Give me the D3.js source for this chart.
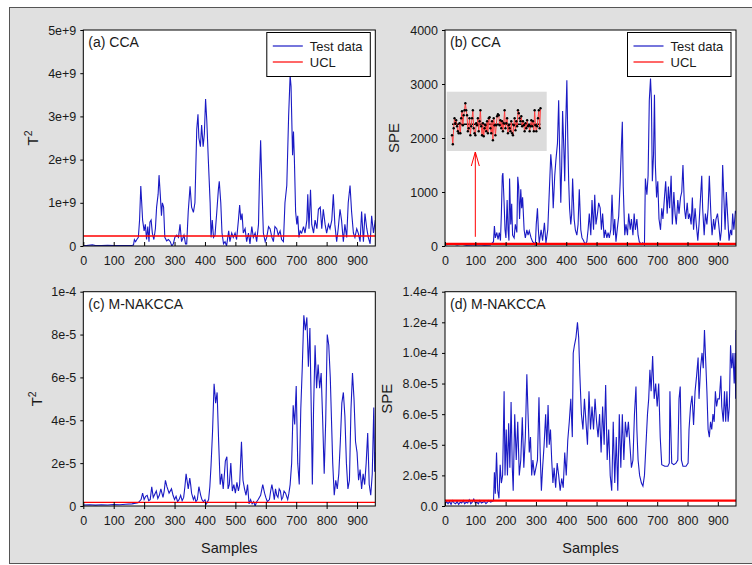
<!DOCTYPE html>
<html>
<head>
<meta charset="utf-8">
<script src="https://cdn.jsdelivr.net/npm/d3@7"></script>
<style>
  body { margin: 0; background: #fff; }
  text { font-family: Arial, "Liberation Sans", sans-serif; fill: #1a1a1a; }
</style>
</head>
<body>
<svg id="fig" width="752" height="565"></svg>
<script>
// values: [sample, statistic]
// (a) CCA T2, in units of 1e9
var ccaT2 = [[0,0.01],[10,0.01],[30,0.025],[40,0.01],[60,0.01],[80,0.015],[100,0.01],[120,0.01],[140,0.01],[160,0.015],[165,0.02],[168,0.15],[172,0.1],[176,0.15],[181,0.2],[185,0.6],[189,1.39],[192,1.0],[195,0.6],[200,0.35],[204,0.5],[208,0.15],[212,0.45],[216,0.1],[219,0.55],[223,0.6],[227,0.3],[232,0.15],[237,0.4],[241,0.9],[246,1.2],[249,1.64],[253,1.2],[257,0.7],[260,1.0],[264,0.9],[268,0.2],[274,0.12],[280,0.15],[286,0.1],[291,0.0],[296,0.05],[301,0.2],[307,0.25],[313,0.2],[318,0.5],[323,0.1],[331,0.25],[336,0.05],[340,0.05],[345,0.8],[351,1.38],[356,0.9],[362,0.78],[367,1.0],[373,2.7],[377,3.05],[380,2.5],[385,2.3],[389,2.8],[394,2.3],[398,2.6],[402,3.4],[406,2.9],[411,2.0],[417,1.0],[420,0.2],[424,0.6],[428,0.2],[433,0.25],[439,0.8],[444,1.3],[447,1.5],[452,1.0],[456,0.3],[461,0.05],[466,0.1],[471,0.0],[478,0.35],[482,0.1],[488,0.3],[493,0.2],[499,0.3],[504,0.15],[510,0.6],[514,0.95],[518,0.6],[522,0.75],[526,0.3],[532,0.4],[537,0.1],[543,0.3],[548,0.05],[554,0.45],[559,0.2],[565,0.3],[570,0.1],[576,0.5],[579,1.5],[583,2.45],[588,1.2],[592,0.3],[598,0.1],[603,0.2],[609,0.45],[614,0.4],[620,0.2],[625,0.1],[630,0.45],[636,0.4],[641,0.25],[647,0.35],[652,0.15],[658,0.1],[663,1.0],[669,1.4],[675,3.0],[680,3.95],[683,3.7],[688,2.1],[691,2.65],[694,2.0],[698,0.8],[702,0.5],[705,0.7],[709,0.2],[713,0.35],[718,0.3],[724,0.45],[729,0.3],[735,0.6],[738,1.2],[742,0.4],[747,1.3],[751,0.5],[757,0.3],[762,0.6],[768,0.4],[773,0.85],[779,0.9],[784,0.4],[789,0.85],[795,0.5],[800,0.3],[806,0.5],[811,0.4],[817,0.6],[822,1.2],[827,0.5],[833,0.1],[838,0.4],[844,0.85],[849,0.6],[855,0.1],[860,0.5],[866,0.2],[871,1.0],[877,1.4],[882,0.8],[888,0.3],[893,0.2],[899,0.4],[904,0.3],[910,0.1],[915,0.8],[921,0.1],[926,0.75],[932,0.4],[937,0.2],[943,0.05],[948,0.7],[954,0.3],[960,0.6]];
var ccaT2UCL = 0.23;

// (b) CCA SPE
var ccaSPE = [[0,20],[10,30],[25,40],[40,20],[55,35],[70,15],[90,20],[110,25],[130,15],[150,20],[160,80],[163,370],[166,150],[171,250],[175,120],[179,250],[183,100],[186,600],[189,1300],[191,1350],[195,800],[198,300],[201,150],[205,850],[208,300],[211,100],[213,1250],[217,400],[220,780],[223,200],[228,150],[232,400],[237,250],[240,1280],[243,1100],[246,500],[250,1050],[253,700],[256,900],[261,300],[265,150],[270,300],[274,200],[278,280],[284,150],[289,80],[295,50],[298,10],[301,400],[305,700],[308,300],[311,50],[317,300],[322,100],[328,430],[333,50],[339,300],[344,1000],[349,1700],[353,1400],[357,700],[362,1300],[366,1600],[371,1900],[375,2700],[378,1800],[382,800],[385,1500],[388,2500],[392,1800],[395,1200],[398,2200],[402,3070],[405,2000],[408,1200],[411,700],[415,400],[418,600],[421,1250],[426,500],[430,300],[435,200],[439,400],[443,1050],[448,300],[452,150],[457,100],[462,30],[468,80],[472,300],[476,600],[481,200],[485,850],[490,300],[494,950],[498,400],[503,600],[507,800],[512,700],[516,300],[520,600],[525,150],[529,300],[534,150],[538,250],[542,150],[547,300],[551,950],[556,200],[560,500],[564,80],[569,350],[573,550],[578,1200],[582,1850],[585,2300],[588,1100],[593,200],[597,400],[602,200],[606,600],[611,300],[615,500],[620,200],[624,600],[628,300],[633,500],[637,200],[641,80],[647,30],[652,60],[658,20],[661,1250],[666,950],[670,1300],[674,2700],[678,3100],[681,2700],[684,1200],[688,1700],[691,2800],[694,1500],[698,900],[702,1200],[706,500],[711,300],[715,700],[719,500],[724,900],[728,1200],[733,600],[737,1100],[741,700],[746,1300],[750,400],[755,1000],[759,600],[763,400],[768,850],[772,600],[777,900],[781,1000],[785,1500],[790,700],[794,500],[799,800],[803,500],[807,600],[812,400],[816,900],[820,300],[825,700],[829,400],[834,100],[838,400],[843,900],[847,1300],[850,700],[855,200],[859,600],[864,400],[868,700],[872,1300],[877,600],[881,200],[886,500],[890,300],[894,500],[899,600],[903,400],[908,100],[912,300],[916,1500],[920,900],[924,300],[928,1000],[933,500],[937,100],[942,300],[946,200],[949,600],[953,300],[958,650],[960,600]];
var ccaSPEUCL = 40;

// (b) inset: zoomed normal section, deviation from the limit line
var insetSPE = [-11,-20,-4,6,1,4,-2,-7,-9,1,-9,6,13,-1,9,14,21,14,9,-7,-4,6,-11,-2,6,14,-4,-9,-11,1,-1,6,-7,3,14,-2,-11,1,-12,-4,-1,-7,3,-9,6,7,-4,-9,3,-16,6,-1,-11,-1,8,10,9,-1,4,-4,3,-7,1,14,-4,1,6,-9,-1,-4,-7,3,-9,-11,-1,6,-6,3,-2,14,11,6,3,8,-2,3,-1,-7,1,-4,4,-2,-1,-7,-2,4,-2,3,-7,14,-1,-7,-2,6,14,-4,16];
var arrowSample = 100;

// (c) M-NAKCCA T2, in units of 1e-5
var mnT2 = [[0,0.05],[20,0.06],[40,0.04],[60,0.06],[80,0.05],[100,0.07],[120,0.06],[140,0.08],[160,0.1],[180,0.15],[190,0.3],[195,0.6],[200,0.3],[205,0.45],[210,0.5],[215,0.25],[220,0.3],[225,0.9],[230,0.4],[235,0.55],[240,0.7],[245,0.35],[250,0.5],[255,0.8],[262,0.4],[266,0.7],[270,1.2],[275,0.9],[282,0.6],[290,0.8],[295,0.5],[300,0.3],[305,0.45],[310,0.2],[315,0.3],[320,0.5],[325,0.25],[330,0.4],[334,0.9],[338,1.5],[342,1.1],[345,0.8],[350,1.3],[353,1.0],[356,0.6],[362,0.3],[366,0.45],[370,0.2],[375,0.3],[380,0.9],[383,0.7],[386,0.5],[390,0.3],[395,0.2],[400,0.3],[405,0.1],[412,0.3],[416,0.9],[420,1.9],[425,3.5],[430,5.7],[433,5.2],[435,4.8],[440,5.3],[445,3.0],[450,1.0],[455,1.5],[460,0.8],[464,1.5],[467,2.1],[472,2.3],[476,0.8],[480,1.0],[485,2.0],[490,0.7],[495,1.0],[500,0.6],[505,1.1],[510,0.7],[514,1.0],[517,2.0],[520,3.0],[525,1.2],[530,0.8],[535,0.5],[540,1.0],[545,0.1],[550,0.3],[555,0.1],[560,0.2],[565,0.0],[570,0.2],[575,0.3],[583,0.5],[590,1.0],[596,0.6],[600,0.4],[605,0.2],[612,0.3],[616,0.7],[620,1.0],[625,0.6],[628,0.3],[632,0.8],[636,0.5],[640,0.4],[644,0.8],[648,0.7],[652,0.3],[656,0.4],[660,0.7],[665,0.6],[672,0.3],[676,0.6],[680,1.0],[685,2.0],[690,4.7],[695,3.8],[700,5.6],[705,2.0],[710,1.0],[715,4.5],[720,6.5],[725,8.9],[730,8.2],[735,8.8],[740,6.5],[745,8.3],[750,4.0],[753,1.0],[757,4.5],[762,7.5],[767,5.5],[772,6.6],[777,5.5],[782,6.2],[787,4.0],[792,1.5],[797,4.0],[802,8.0],[807,7.5],[812,6.0],[816,4.0],[820,2.0],[825,0.5],[830,1.2],[835,0.8],[840,1.5],[845,3.0],[850,4.8],[855,5.3],[860,4.2],[865,2.0],[870,0.8],[875,1.2],[880,4.5],[885,6.2],[890,5.0],[895,3.0],[900,2.5],[905,1.2],[910,1.7],[915,0.8],[920,1.5],[925,1.0],[930,2.0],[935,3.4],[940,1.0],[945,0.5],[950,1.5],[955,4.6],[958,1.6],[960,2.5]];
var mnT2UCL = 0.17;

// (d) M-NAKCCA SPE, in units of 1e-5
var mnSPE = [[0,0.1],[5,0.3],[10,0.15],[15,0.3],[20,0.1],[25,0.35],[30,0.2],[35,0.15],[40,0.3],[45,0.1],[50,0.25],[55,0.2],[60,0.35],[65,0.15],[70,0.25],[75,0.2],[80,0.4],[85,0.15],[90,0.25],[95,0.45],[100,0.2],[105,0.25],[110,0.15],[115,0.35],[120,0.2],[125,0.25],[130,0.3],[135,0.15],[140,0.25],[145,0.35],[150,0.25],[155,0.3],[160,0.35],[163,2.2],[166,0.8],[170,3.5],[174,1.0],[178,0.5],[182,2.7],[186,1.5],[190,2.0],[195,7.5],[198,2.0],[202,5.0],[206,2.0],[210,5.4],[214,2.5],[218,6.8],[222,2.5],[225,1.0],[230,6.0],[235,3.0],[240,5.5],[245,2.0],[250,3.0],[255,5.8],[260,2.5],[265,4.5],[270,8.6],[274,6.0],[278,3.5],[282,4.5],[286,2.0],[290,3.0],[295,2.0],[300,2.5],[305,3.0],[310,7.1],[314,3.5],[318,1.0],[322,2.5],[327,4.0],[332,6.0],[336,3.8],[340,6.6],[344,4.0],[348,5.0],[352,3.0],[356,1.5],[360,2.5],[365,1.2],[370,2.8],[375,2.0],[380,1.0],[385,1.8],[390,1.2],[395,3.5],[400,2.0],[405,4.3],[410,5.5],[415,7.0],[420,4.5],[423,10.0],[427,10.5],[432,11.0],[437,12.0],[441,11.0],[445,8.5],[450,6.0],[455,5.0],[460,7.0],[465,5.5],[470,4.0],[475,7.5],[480,5.0],[485,6.5],[490,5.0],[495,7.0],[500,5.5],[505,4.5],[510,6.0],[515,3.5],[520,6.5],[525,4.0],[530,7.9],[535,3.0],[540,5.0],[545,2.0],[550,1.0],[555,5.5],[560,1.5],[565,4.5],[570,1.0],[575,6.0],[580,2.5],[585,6.0],[590,3.0],[595,5.5],[600,4.5],[605,5.5],[610,4.0],[615,2.5],[620,3.0],[625,6.0],[630,7.8],[633,5.0],[637,3.0],[642,2.0],[648,1.5],[653,1.3],[658,2.0],[663,4.0],[668,6.0],[672,7.0],[676,8.9],[680,7.5],[685,9.8],[690,7.0],[695,8.0],[700,6.5],[705,8.0],[710,4.5],[715,2.7],[725,2.6],[735,2.6],[740,2.8],[742,7.5],[745,5.0],[748,2.8],[755,2.7],[762,2.8],[768,3.0],[772,7.0],[776,7.8],[780,3.0],[785,2.6],[795,2.6],[802,2.8],[805,5.0],[810,6.5],[815,7.2],[820,5.3],[825,7.5],[830,8.5],[835,9.7],[838,7.0],[843,9.0],[848,10.0],[852,9.0],[856,11.5],[860,9.5],[864,7.5],[868,5.0],[872,4.5],[876,5.5],[880,5.0],[884,6.0],[888,5.5],[892,7.5],[896,6.5],[900,7.0],[905,7.0],[910,8.5],[913,6.5],[918,5.5],[922,7.5],[926,5.5],[930,7.5],[934,5.5],[938,6.5],[942,10.5],[946,9.0],[950,10.0],[954,8.0],[957,10.0],[959,7.0],[960,11.5]];
var mnSPEUCL = 0.35;

// axis ticks
var xTicks = [0,100,200,300,400,500,600,700,800,900];
var aTicks = [0,1,2,3,4,5], aLabels = ["0","1e+9","2e+9","3e+9","4e+9","5e+9"];
var bTicks = [0,1000,2000,3000,4000], bLabels = ["0","1000","2000","3000","4000"];
var cTicks = [0,2,4,6,8,10], cLabels = ["0","2e-5","4e-5","6e-5","8e-5","1e-4"];
var dTicks = [0,2,4,6,8,10,12,14], dLabels = ["0.0","2.0e-5","4.0e-5","6.0e-5","8.0e-5","1.0e-4","1.2e-4","1.4e-4"];

var blue = '#1a1ac4', red = '#ff0000';
var svg = d3.select('#fig');

// figure background frame
svg.append('rect')
  .attr('x', 9.5).attr('y', 7.5).attr('width', 750).attr('height', 556)
  .attr('fill', '#e0e0e0').attr('stroke', '#555').attr('stroke-width', 1);

var panels = [
  {id:'a', data:ccaT2, ucl:ccaT2UCL, uclW:1.4, ymax:5, ticks:aTicks, labels:aLabels,
   x0:83.3, x1:375.3, y0:30, y1:246, title:'(a) CCA', ytitle:'T', sup:true, ytx:32, legend:true},
  {id:'b', data:ccaSPE, ucl:ccaSPEUCL, uclW:2.2, ymax:4000, ticks:bTicks, labels:bLabels,
   x0:445, x1:736, y0:30, y1:246, title:'(b) CCA', ytitle:'SPE', sup:false, ytx:393.5, legend:true},
  {id:'c', data:mnT2, ucl:mnT2UCL, uclW:1.4, ymax:10, ticks:cTicks, labels:cLabels,
   x0:83.3, x1:375.3, y0:291.7, y1:506, title:'(c) M-NAKCCA', ytitle:'T', sup:true, ytx:36, xtitle:true, tickOut:true},
  {id:'d', data:mnSPE, ucl:mnSPEUCL, uclW:2.2, ymax:14, ticks:dTicks, labels:dLabels,
   x0:445, x1:736, y0:291.7, y1:506, title:'(d) M-NAKCCA', ytitle:'SPE', sup:false, ytx:386, xtitle:true}
];

panels.forEach(function(p) {
  var x = d3.scaleLinear().domain([0, 960]).range([p.x0, p.x1]);
  var y = d3.scaleLinear().domain([0, p.ymax]).range([p.y1, p.y0]);
  p.x = x; p.y = y;
  var g = svg.append('g');

  g.append('rect')
    .attr('x', p.x0).attr('y', p.y0)
    .attr('width', p.x1 - p.x0).attr('height', p.y1 - p.y0)
    .attr('fill', '#fff');

  g.append('clipPath').attr('id', 'clip-' + p.id)
    .append('rect')
    .attr('x', p.x0).attr('y', p.y0)
    .attr('width', p.x1 - p.x0).attr('height', p.y1 - p.y0);

  var plot = g.append('g').attr('clip-path', 'url(#clip-' + p.id + ')');

  plot.append('path')
    .datum(p.data)
    .attr('d', d3.line().x(function(d) { return x(d[0]); }).y(function(d) { return y(d[1]); }))
    .attr('fill', 'none')
    .attr('stroke', blue)
    .attr('stroke-width', 1.1);

  plot.append('line')
    .attr('x1', p.x0).attr('x2', p.x1)
    .attr('y1', y(p.ucl)).attr('y2', y(p.ucl))
    .attr('stroke', red).attr('stroke-width', p.uclW);

  // axes
  var xa = g.append('g')
    .attr('transform', 'translate(0,' + p.y1 + ')')
    .call(d3.axisBottom(x).tickValues(xTicks).tickSize(-4).tickPadding(10));
  if (p.tickOut) {
    xa.selectAll('.tick line').attr('y2', null).attr('y1', -4).attr('y2', 3);
  }
  var ya = g.append('g')
    .attr('transform', 'translate(' + p.x0 + ',0)')
    .call(d3.axisLeft(y).tickValues(p.ticks).tickSize(3).tickPadding(4)
      .tickFormat(function(d, i) { return p.labels[i]; }));
  [xa, ya].forEach(function(a) {
    a.select('.domain').remove();
    a.selectAll('text').style('font-size', '12.5px').attr('fill', '#1a1a1a')
      .style('font-family', 'Arial, "Liberation Sans", sans-serif');
    a.selectAll('line').attr('stroke', '#000');
  });

  g.append('rect')
    .attr('x', p.x0).attr('y', p.y0)
    .attr('width', p.x1 - p.x0).attr('height', p.y1 - p.y0)
    .attr('fill', 'none').attr('stroke', '#000').attr('stroke-width', 1);

  // panel label
  g.append('text')
    .attr('x', p.x0 + 5).attr('y', p.y0 + 17)
    .style('font-size', '14px')
    .text(p.title);

  // y title
  var yt = g.append('text')
    .attr('transform', 'translate(' + (p.ytx + 5.5) + ',' + ((p.y0 + p.y1) / 2) + ') rotate(-90)')
    .attr('text-anchor', 'middle')
    .style('font-size', '15px');
  yt.append('tspan').text(p.ytitle);
  if (p.sup) yt.append('tspan').attr('dy', -6).style('font-size', '10.5px').text('2');

  if (p.xtitle) {
    g.append('text')
      .attr('x', (p.x0 + p.x1) / 2).attr('y', p.y1 + 47)
      .attr('text-anchor', 'middle')
      .style('font-size', '14.5px')
      .text('Samples');
  }

  if (p.legend) {
    var lx = p.x1 - 108.5, ly = p.y0 + 2.5;
    var lg = g.append('g');
    lg.append('rect').attr('x', lx).attr('y', ly).attr('width', 103.5).attr('height', 44)
      .attr('fill', '#fff').attr('stroke', '#000').attr('stroke-width', 1);
    [['Test data', blue, 1.2], ['UCL', red, 1.2]].forEach(function(it, i) {
      lg.append('line')
        .attr('x1', lx + 6).attr('x2', lx + 36)
        .attr('y1', ly + 13.5 + i * 16).attr('y2', ly + 13.5 + i * 16)
        .attr('stroke', it[1]).attr('stroke-width', it[2]);
      lg.append('text')
        .attr('x', lx + 43).attr('y', ly + 18 + i * 16)
        .style('font-size', '13px')
        .text(it[0]);
    });
  }
});

// inset in panel (b)
var pb = panels[1];
var inset = svg.append('g');
inset.append('rect')
  .attr('x', 446.7).attr('y', 91.7).attr('width', 100).attr('height', 59.3)
  .attr('fill', '#dcdcdc');
var ix = d3.scaleLinear().domain([0, insetSPE.length - 1]).range([452, 540.5]);
var iy = d3.scaleLinear().domain([-25, 25]).range([149.3, 99.3]);
inset.append('line')
  .attr('x1', ix(0)).attr('x2', ix(insetSPE.length - 1))
  .attr('y1', iy(0)).attr('y2', iy(0))
  .attr('stroke', '#000').attr('stroke-width', 1.4);
inset.append('path')
  .datum(insetSPE)
  .attr('d', d3.line().x(function(d, i) { return ix(i); }).y(function(d) { return iy(d); }))
  .attr('fill', 'none').attr('stroke', '#ff4040').attr('stroke-width', 1);
inset.selectAll('circle')
  .data(insetSPE)
  .enter().append('circle')
  .attr('cx', function(d, i) { return ix(i); })
  .attr('cy', function(d) { return iy(d); })
  .attr('r', 1.2)
  .attr('fill', '#000');

// arrow pointing to the zoomed section
var ax = pb.x(arrowSample);
inset.append('line')
  .attr('x1', ax).attr('x2', ax).attr('y1', pb.y(170)).attr('y2', 152)
  .attr('stroke', red).attr('stroke-width', 1);
inset.append('path')
  .attr('d', 'M' + (ax - 4) + ',166 L' + ax + ',152 L' + (ax + 4) + ',166')
  .attr('fill', 'none').attr('stroke', red).attr('stroke-width', 1);
</script>
</body>
</html>
